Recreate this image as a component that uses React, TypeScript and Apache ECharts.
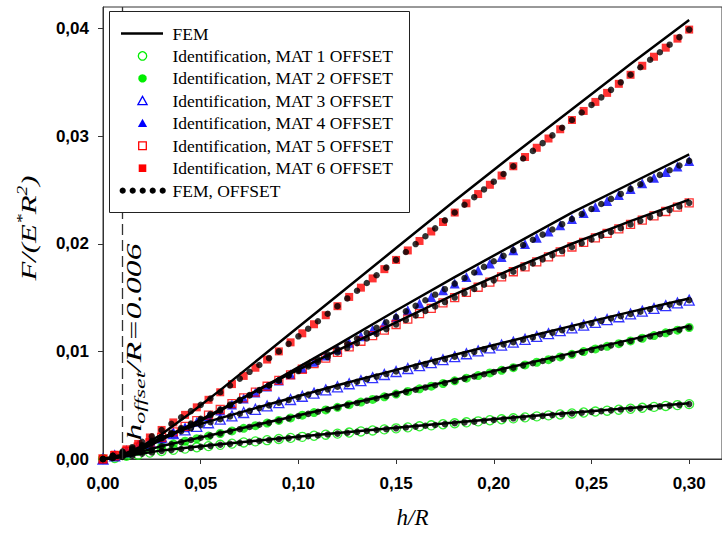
import React, { useEffect, useRef } from 'react';
import * as echarts from 'echarts';

// h/R sample positions
const identH = [0, 0.006, 0.012, 0.018, 0.024, 0.03, 0.036, 0.042, 0.048, 0.054, 0.06, 0.066, 0.072, 0.078, 0.084, 0.09, 0.096, 0.102, 0.108, 0.114, 0.12, 0.126, 0.132, 0.138, 0.144, 0.15, 0.156, 0.162, 0.168, 0.174, 0.18, 0.186, 0.192, 0.198, 0.204, 0.21, 0.216, 0.222, 0.228, 0.234, 0.24, 0.246, 0.252, 0.258, 0.264, 0.27, 0.276, 0.282, 0.288, 0.294, 0.3];
const dotH = [0, 0.005, 0.01, 0.015, 0.02, 0.025, 0.03, 0.035, 0.04, 0.045, 0.05, 0.055, 0.06, 0.065, 0.07, 0.075, 0.08, 0.085, 0.09, 0.095, 0.1, 0.105, 0.11, 0.115, 0.12, 0.125, 0.13, 0.135, 0.14, 0.145, 0.15, 0.155, 0.16, 0.165, 0.17, 0.175, 0.18, 0.185, 0.19, 0.195, 0.2, 0.205, 0.21, 0.215, 0.22, 0.225, 0.23, 0.235, 0.24, 0.245, 0.25, 0.255, 0.26, 0.265, 0.27, 0.275, 0.28, 0.285, 0.29, 0.295, 0.3];
const femH = [0, 0.01, 0.02, 0.03, 0.045, 0.06, 0.09, 0.12, 0.15, 0.18, 0.21, 0.24, 0.27, 0.3];

// Identification, OFFSET (markers)
const mat1Ident = [0, 0.0001, 0.0003, 0.0004, 0.0006, 0.00074, 0.00086, 0.00097, 0.00109, 0.0012, 0.00132, 0.00143, 0.00154, 0.00164, 0.00175, 0.00186, 0.00196, 0.00206, 0.00216, 0.00226, 0.00236, 0.00246, 0.00256, 0.00265, 0.00275, 0.00285, 0.00294, 0.00304, 0.00313, 0.00323, 0.00332, 0.00341, 0.0035, 0.0036, 0.00369, 0.00378, 0.00387, 0.00396, 0.00405, 0.00414, 0.00423, 0.00432, 0.00441, 0.00449, 0.00458, 0.00467, 0.00476, 0.00484, 0.00493, 0.00501, 0.0051];
const mat2Ident = [0, 0.0002, 0.0004, 0.0007, 0.0009, 0.00117, 0.00141, 0.00165, 0.00189, 0.00213, 0.00237, 0.00261, 0.00285, 0.0031, 0.00334, 0.00358, 0.00382, 0.00407, 0.00431, 0.00456, 0.0048, 0.00505, 0.00529, 0.00554, 0.00578, 0.00603, 0.00628, 0.00652, 0.00677, 0.00701, 0.00726, 0.00751, 0.00775, 0.008, 0.00824, 0.00849, 0.00874, 0.00899, 0.00923, 0.00948, 0.00973, 0.00998, 0.01023, 0.01047, 0.01072, 0.01097, 0.01122, 0.01147, 0.01172, 0.01197, 0.01222];
const mat3Ident = [0, 0.0003, 0.0007, 0.0012, 0.0016, 0.00204, 0.00237, 0.0027, 0.00304, 0.00337, 0.0037, 0.00401, 0.00432, 0.00462, 0.00493, 0.00524, 0.00553, 0.00583, 0.00612, 0.00642, 0.00671, 0.00699, 0.00728, 0.00756, 0.00785, 0.00813, 0.00841, 0.00868, 0.00896, 0.00923, 0.00951, 0.00978, 0.01005, 0.01032, 0.01059, 0.01086, 0.01112, 0.01139, 0.01165, 0.01192, 0.01218, 0.01244, 0.0127, 0.01296, 0.01322, 0.01348, 0.01374, 0.01399, 0.01425, 0.0145, 0.01476];
const mat4Ident = [0, 0.0003, 0.0006, 0.001, 0.0014, 0.0019, 0.00242, 0.00294, 0.00346, 0.00398, 0.0045, 0.00506, 0.00562, 0.00618, 0.00674, 0.0073, 0.00788, 0.00846, 0.00904, 0.00962, 0.0102, 0.0108, 0.0114, 0.012, 0.0126, 0.0132, 0.01382, 0.01444, 0.01506, 0.01568, 0.0163, 0.01692, 0.01754, 0.01816, 0.01878, 0.0194, 0.01998, 0.02056, 0.02114, 0.02172, 0.0223, 0.02286, 0.02342, 0.02398, 0.02454, 0.0251, 0.02562, 0.02614, 0.02666, 0.02718, 0.0277];
const mat5Ident = [0, 0.0003, 0.0007, 0.0011, 0.0015, 0.002, 0.00252, 0.00304, 0.00356, 0.00408, 0.0046, 0.00514, 0.00568, 0.00622, 0.00676, 0.0073, 0.00782, 0.00834, 0.00886, 0.00938, 0.0099, 0.01042, 0.01094, 0.01146, 0.01198, 0.0125, 0.013, 0.0135, 0.014, 0.0145, 0.015, 0.01548, 0.01596, 0.01644, 0.01692, 0.0174, 0.01786, 0.01832, 0.01878, 0.01924, 0.0197, 0.02012, 0.02054, 0.02096, 0.02138, 0.0218, 0.0222, 0.0226, 0.023, 0.0234, 0.0238];
const mat6Ident = [0, 0.0004, 0.0009, 0.0014, 0.002, 0.0027, 0.0034, 0.0041, 0.0048, 0.0055, 0.0062, 0.00696, 0.00772, 0.00848, 0.00924, 0.01, 0.01084, 0.01168, 0.01252, 0.01336, 0.0142, 0.01506, 0.01592, 0.01678, 0.01764, 0.0185, 0.01938, 0.02026, 0.02114, 0.02202, 0.0229, 0.02376, 0.02462, 0.02548, 0.02634, 0.0272, 0.02806, 0.02892, 0.02978, 0.03064, 0.0315, 0.03234, 0.03318, 0.03402, 0.03486, 0.0357, 0.03654, 0.03738, 0.03822, 0.03906, 0.0399];

// FEM, OFFSET (black dots)
const mat1Dots = [0, 0.0001, 0.0002, 0.0003, 0.0005, 0.0006, 0.00074, 0.00084, 0.00093, 0.00103, 0.00113, 0.00122, 0.00132, 0.00141, 0.0015, 0.00159, 0.00168, 0.00177, 0.00186, 0.00194, 0.00203, 0.00211, 0.00219, 0.00228, 0.00236, 0.00244, 0.00252, 0.00261, 0.00269, 0.00277, 0.00285, 0.00293, 0.00301, 0.00309, 0.00316, 0.00324, 0.00332, 0.0034, 0.00347, 0.00355, 0.00363, 0.0037, 0.00378, 0.00386, 0.00393, 0.00401, 0.00408, 0.00416, 0.00423, 0.0043, 0.00438, 0.00445, 0.00452, 0.0046, 0.00467, 0.00474, 0.00481, 0.00489, 0.00496, 0.00503, 0.0051];
const mat2Dots = [0, 0.0001, 0.0003, 0.0005, 0.0007, 0.0009, 0.00117, 0.00137, 0.00157, 0.00177, 0.00197, 0.00217, 0.00237, 0.00257, 0.00277, 0.00298, 0.00318, 0.00338, 0.00358, 0.00378, 0.00399, 0.00419, 0.00439, 0.0046, 0.0048, 0.00501, 0.00521, 0.00542, 0.00562, 0.00583, 0.00603, 0.00624, 0.00644, 0.00665, 0.00685, 0.00706, 0.00726, 0.00747, 0.00767, 0.00788, 0.00808, 0.00829, 0.00849, 0.0087, 0.0089, 0.00911, 0.00932, 0.00952, 0.00973, 0.00994, 0.01014, 0.01035, 0.01056, 0.01076, 0.01097, 0.01118, 0.01139, 0.0116, 0.0118, 0.01201, 0.01222];
const mat3Dots = [0, 0.0003, 0.0006, 0.001, 0.0013, 0.0017, 0.00204, 0.00232, 0.00259, 0.00287, 0.00315, 0.00342, 0.0037, 0.00396, 0.00421, 0.00447, 0.00473, 0.00498, 0.00524, 0.00549, 0.00573, 0.00598, 0.00622, 0.00647, 0.00671, 0.00695, 0.00718, 0.00742, 0.00766, 0.00789, 0.00813, 0.00836, 0.00859, 0.00882, 0.00905, 0.00928, 0.00951, 0.00974, 0.00996, 0.01019, 0.01041, 0.01064, 0.01086, 0.01108, 0.0113, 0.01152, 0.01174, 0.01196, 0.01218, 0.0124, 0.01261, 0.01283, 0.01305, 0.01326, 0.01348, 0.01369, 0.01391, 0.01412, 0.01433, 0.01455, 0.01476];
const mat4Dots = [0, 0.0002, 0.0005, 0.0008, 0.0011, 0.0015, 0.0019, 0.00233, 0.00277, 0.0032, 0.00363, 0.00407, 0.0045, 0.00497, 0.00543, 0.0059, 0.00637, 0.00683, 0.0073, 0.00778, 0.00827, 0.00875, 0.00923, 0.00972, 0.0102, 0.0107, 0.0112, 0.0117, 0.0122, 0.0127, 0.0132, 0.01372, 0.01423, 0.01475, 0.01527, 0.01578, 0.0163, 0.01682, 0.01733, 0.01785, 0.01837, 0.01888, 0.0194, 0.01988, 0.02037, 0.02085, 0.02133, 0.02182, 0.0223, 0.02277, 0.02323, 0.0237, 0.02417, 0.02463, 0.0251, 0.02553, 0.02597, 0.0264, 0.02683, 0.02727, 0.0277];
const mat5Dots = [0, 0.0003, 0.0006, 0.0009, 0.0012, 0.0016, 0.002, 0.00243, 0.00287, 0.0033, 0.00373, 0.00417, 0.0046, 0.00505, 0.0055, 0.00595, 0.0064, 0.00685, 0.0073, 0.00773, 0.00817, 0.0086, 0.00903, 0.00947, 0.0099, 0.01033, 0.01077, 0.0112, 0.01163, 0.01207, 0.0125, 0.01292, 0.01333, 0.01375, 0.01417, 0.01458, 0.015, 0.0154, 0.0158, 0.0162, 0.0166, 0.017, 0.0174, 0.01778, 0.01817, 0.01855, 0.01893, 0.01932, 0.0197, 0.02005, 0.0204, 0.02075, 0.0211, 0.02145, 0.0218, 0.02213, 0.02247, 0.0228, 0.02313, 0.02347, 0.0238];
const mat6Dots = [0, 0.0003, 0.0007, 0.0011, 0.0016, 0.0021, 0.0027, 0.00328, 0.00387, 0.00445, 0.00503, 0.00562, 0.0062, 0.00683, 0.00747, 0.0081, 0.00873, 0.00937, 0.01, 0.0107, 0.0114, 0.0121, 0.0128, 0.0135, 0.0142, 0.01492, 0.01563, 0.01635, 0.01707, 0.01778, 0.0185, 0.01923, 0.01997, 0.0207, 0.02143, 0.02217, 0.0229, 0.02362, 0.02433, 0.02505, 0.02577, 0.02648, 0.0272, 0.02792, 0.02863, 0.02935, 0.03007, 0.03078, 0.0315, 0.0322, 0.0329, 0.0336, 0.0343, 0.035, 0.0357, 0.0364, 0.0371, 0.0378, 0.0385, 0.0392, 0.0399];

// FEM (solid lines)
const mat1Fem = [0, 0.0002, 0.0005, 0.0008, 0.0011, 0.00137, 0.00191, 0.00242, 0.00291, 0.00339, 0.00385, 0.0043, 0.00474, 0.00517];
const mat2Fem = [0, 0.00025, 0.0007, 0.0012, 0.0018, 0.00242, 0.00364, 0.00487, 0.00611, 0.00735, 0.00859, 0.00984, 0.01109, 0.01235];
const mat3Fem = [0, 0.0003, 0.0011, 0.002, 0.003, 0.0038, 0.00535, 0.00685, 0.00828, 0.00968, 0.01104, 0.01237, 0.01367, 0.01492];
const mat4Fem = [0, 0.0002, 0.0009, 0.0018, 0.0031, 0.0045, 0.0075, 0.0106, 0.0138, 0.0169, 0.0199, 0.0229, 0.0256, 0.0283];
const mat5Fem = [0, 0.0002, 0.0009, 0.0019, 0.0032, 0.0046, 0.0074, 0.0101, 0.0127, 0.0153, 0.0177, 0.02, 0.0221, 0.0241];
const mat6Fem = [0, 0.0004, 0.0012, 0.0023, 0.0043, 0.0064, 0.0108, 0.0152, 0.0196, 0.024, 0.0283, 0.0325, 0.0367, 0.0408];

const xTicks = [0, 0.05, 0.1, 0.15, 0.2, 0.25, 0.3];
const yTicks = [0, 0.01, 0.02, 0.03, 0.04];
const offsetH = 0.006;

const legendLabels = [
  'FEM',
  'Identification, MAT 1 OFFSET',
  'Identification, MAT 2 OFFSET',
  'Identification, MAT 3 OFFSET',
  'Identification, MAT 4 OFFSET',
  'Identification, MAT 5 OFFSET',
  'Identification, MAT 6 OFFSET',
  'FEM, OFFSET',
];

const GREEN = '#00ee00';
const BLUE = '#0000ff';
const RED = '#ff0000';

const mats = [
  { name: legendLabels[1], ident: mat1Ident, dots: mat1Dots, fem: mat1Fem, shape: 'circle', filled: false, color: GREEN },
  { name: legendLabels[2], ident: mat2Ident, dots: mat2Dots, fem: mat2Fem, shape: 'circle', filled: true, color: GREEN },
  { name: legendLabels[3], ident: mat3Ident, dots: mat3Dots, fem: mat3Fem, shape: 'triangle', filled: false, color: BLUE },
  { name: legendLabels[4], ident: mat4Ident, dots: mat4Dots, fem: mat4Fem, shape: 'triangle', filled: true, color: BLUE },
  { name: legendLabels[5], ident: mat5Ident, dots: mat5Dots, fem: mat5Fem, shape: 'rect', filled: false, color: RED },
  { name: legendLabels[6], ident: mat6Ident, dots: mat6Dots, fem: mat6Fem, shape: 'rect', filled: true, color: RED },
];

const pair = (xs: number[], ys: number[]) => xs.map((x, i) => [x, ys[i]]);
const fmt = (v: number) => v.toFixed(2).replace('.', ',');
const symSize = (shape: string) => (shape === 'rect' ? 8 : shape === 'triangle' ? 10 : 9);

export default function App() {
  const ref = useRef<HTMLDivElement>(null);

  useEffect(() => {
    if (!ref.current) return;
    const chart = echarts.init(ref.current, null, { renderer: 'svg' });

    const series: any[] = [];
    mats.forEach((m) => {
      series.push({
        type: 'scatter',
        name: m.name,
        data: pair(identH, m.ident),
        symbol: m.shape,
        symbolSize: symSize(m.shape),
        clip: false,
        z: 2,
        itemStyle: m.filled
          ? { color: m.color }
          : { color: 'rgba(255,255,255,0)', borderColor: m.color, borderWidth: 1.3 },
      });
    });
    mats.forEach((m) => {
      series.push({
        type: 'scatter',
        name: legendLabels[7],
        data: pair(dotH, m.dots),
        symbol: 'circle',
        symbolSize: 6.5,
        clip: false,
        z: 3,
        itemStyle: { color: '#000' },
      });
    });
    mats.forEach((m, i) => {
      const s: any = {
        type: 'line',
        name: legendLabels[0],
        data: pair(femH, m.fem),
        symbol: 'none',
        showSymbol: false,
        smooth: false,
        clip: false,
        z: 4,
        lineStyle: { color: '#000', width: 2.5, join: 'round' },
      };
      if (i === 0) {
        s.markLine = {
          silent: true,
          symbol: ['none', 'none'],
          label: { show: false },
          lineStyle: { color: '#333', width: 1.3, type: [11, 5] },
          data: [{ xAxis: offsetH }],
        };
      }
      series.push(s);
    });

    const rowY = (i: number) => 33.5 + 22.45 * i;
    const mx = 142.5;
    const serif = '"Liberation Serif", "Times New Roman", serif';
    const legendChildren: any[] = [
      {
        type: 'rect',
        z: 100,
        shape: { x: 109.5, y: 11.5, width: 300, height: 201 },
        style: { fill: '#fff', stroke: '#222', lineWidth: 1 },
      },
      {
        type: 'line',
        z: 101,
        shape: { x1: 121, y1: rowY(0), x2: 163, y2: rowY(0) },
        style: { stroke: '#000', lineWidth: 2.5 },
      },
    ];
    mats.forEach((m, k) => {
      const y = rowY(k + 1);
      const style = m.filled
        ? { fill: m.color, stroke: m.color, lineWidth: 0 }
        : { fill: '#fff', stroke: m.color, lineWidth: 1.3 };
      if (m.shape === 'circle') {
        legendChildren.push({ type: 'circle', z: 101, shape: { cx: mx, cy: y, r: 4.2 }, style });
      } else if (m.shape === 'triangle') {
        legendChildren.push({
          type: 'polygon',
          z: 101,
          shape: { points: [[mx, y - 4.5], [mx + 4.6, y + 3.8], [mx - 4.6, y + 3.8]] },
          style,
        });
      } else {
        legendChildren.push({ type: 'rect', z: 101, shape: { x: mx - 3.8, y: y - 3.8, width: 7.6, height: 7.6 }, style });
      }
    });
    [122.7, 132.7, 142.7, 152.7, 162.7].forEach((cx) => {
      legendChildren.push({ type: 'circle', z: 101, shape: { cx, cy: rowY(7), r: 3.1 }, style: { fill: '#000' } });
    });
    legendLabels.forEach((t, i) => {
      legendChildren.push({
        type: 'text',
        z: 101,
        x: 172.5,
        y: rowY(i),
        style: {
          text: t,
          fill: '#000',
          fontSize: 17.5,
          fontFamily: serif,
          align: 'left',
          verticalAlign: 'middle',
        },
      });
    });

    const sansBold = { fontFamily: '"Liberation Sans", Arial, sans-serif', fontWeight: 'bold' as const, fontSize: 17, color: '#000' };

    const option: any = {
      animation: false,
      backgroundColor: '#fff',
      grid: { left: 103, top: 7, right: -2, bottom: 79, show: true, borderColor: '#333', borderWidth: 1, containLabel: false },
      xAxis: {
        type: 'value',
        min: 0,
        max: 0.3168,
        name: 'h/R',
        nameLocation: 'middle',
        nameGap: 47,
        nameTextStyle: { fontFamily: serif, fontStyle: 'italic', fontSize: 23, color: '#000' },
        axisLine: { show: true, lineStyle: { color: '#333', width: 1 } },
        axisTick: { show: true, inside: false, length: 5, customValues: xTicks, lineStyle: { color: '#333', width: 1 } },
        axisLabel: { ...sansBold, margin: 16, customValues: xTicks, formatter: fmt },
        splitLine: { show: false },
      },
      yAxis: {
        type: 'value',
        min: 0,
        max: 0.042,
        axisLine: { show: true, lineStyle: { color: '#333', width: 1 } },
        axisTick: { show: true, inside: false, length: 5, customValues: yTicks, lineStyle: { color: '#333', width: 1 } },
        axisLabel: { ...sansBold, margin: 14, customValues: yTicks, formatter: fmt },
        splitLine: { show: false },
      },
      graphic: [
        { type: 'group', z: 100, children: legendChildren },
        {
          type: 'text',
          z: 100,
          x: 134,
          y: 342,
          rotation: Math.PI / 2,
          scaleX: 1.6,
          style: {
            text: `{a|h}{b|offset}{a|/R=${offsetH}}`,
            align: 'center',
            verticalAlign: 'middle',
            fill: '#000',
            rich: {
              a: { fontFamily: serif, fontStyle: 'italic', fontSize: 21, lineHeight: 27, verticalAlign: 'middle', fill: '#000' },
              b: { fontFamily: serif, fontStyle: 'italic', fontSize: 15, lineHeight: 15, verticalAlign: 'bottom', fill: '#000' },
            },
          },
        },
        {
          type: 'text',
          z: 100,
          x: 29,
          y: 228,
          rotation: Math.PI / 2,
          scaleX: 1.4,
          style: {
            text: '{a|F/(E}{b|*}{a|R}{b|2}{a|)}',
            align: 'center',
            verticalAlign: 'middle',
            fill: '#000',
            rich: {
              a: { fontFamily: serif, fontStyle: 'italic', fontSize: 22, lineHeight: 28, verticalAlign: 'middle', fill: '#000' },
              b: { fontFamily: serif, fontStyle: 'italic', fontSize: 14, lineHeight: 14, verticalAlign: 'top', fill: '#000' },
            },
          },
        },
      ],
      series,
    };

    chart.setOption(option);
    return () => chart.dispose();
  }, []);

  return (
    <div
      ref={ref}
      style={{ position: 'fixed', left: 0, top: 0, width: 722, height: 538, background: '#fff' }}
    />
  );
}
